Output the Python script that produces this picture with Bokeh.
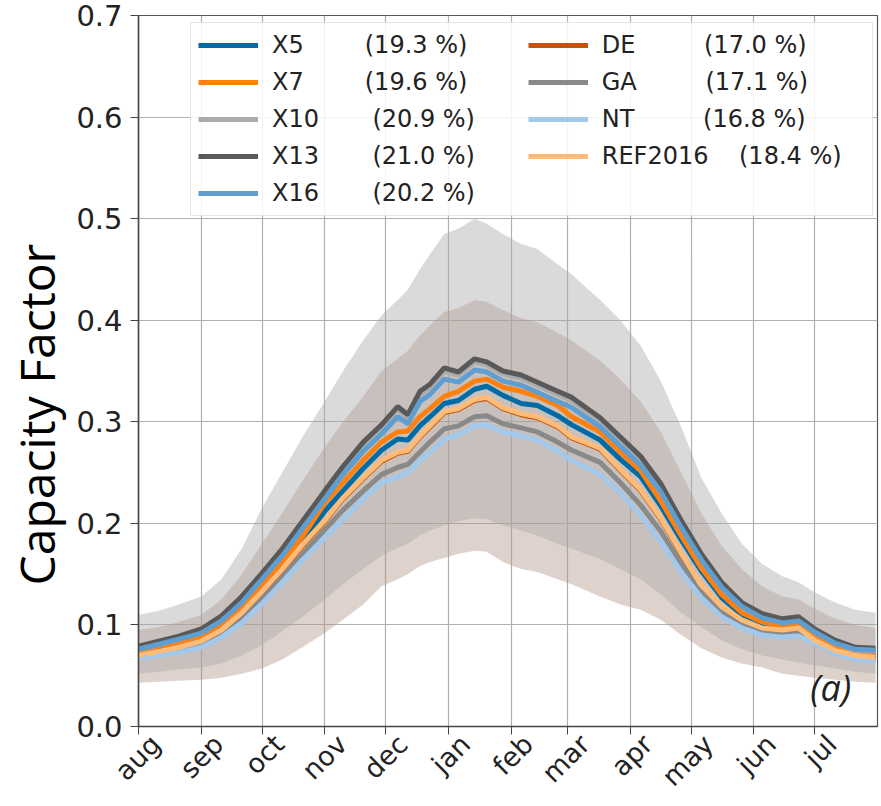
import math
from bokeh.plotting import figure
from bokeh.models import (Legend, LegendItem, FixedTicker, Label, Range1d,
                          NumeralTickFormatter, LinearAxis)
from bokeh.embed import file_html
from bokeh.resources import INLINE

# Day of the season (0 = 1 August)
DAYS = [0, 10, 20, 31, 41, 51, 61, 71, 81, 92, 101, 111, 120, 128, 133, 139,
        144, 151, 158, 166, 172, 180, 189, 197, 207, 214, 228, 238, 248, 258,
        268, 278, 288, 298, 308, 318, 326, 334, 344, 354, 364]

MONTH_STARTS = [0, 31, 61, 92, 122, 153, 184, 212, 243, 273, 304, 334]
MONTH_LABELS = ["aug", "sep", "oct", "nov", "dec", "jan", "feb", "mar",
                "apr", "may", "jun", "jul"]

# Daily mean capacity factor of each model
x5 = [0.072, 0.077, 0.081, 0.087, 0.098, 0.115, 0.136, 0.158, 0.182, 0.212,
      0.232, 0.254, 0.272, 0.283, 0.282, 0.296, 0.305, 0.318, 0.321, 0.332,
      0.335, 0.326, 0.318, 0.316, 0.306, 0.297, 0.282, 0.263, 0.246, 0.217,
      0.184, 0.153, 0.127, 0.110, 0.101, 0.097, 0.099, 0.088, 0.077, 0.071,
      0.070]
x7 = [0.074, 0.079, 0.083, 0.089, 0.101, 0.118, 0.140, 0.162, 0.187, 0.220,
      0.240, 0.262, 0.280, 0.290, 0.291, 0.305, 0.313, 0.325, 0.330, 0.340,
      0.342, 0.334, 0.330, 0.325, 0.316, 0.305, 0.290, 0.270, 0.252, 0.222,
      0.188, 0.156, 0.130, 0.112, 0.103, 0.099, 0.101, 0.090, 0.079, 0.073,
      0.072]
x10 = [0.076, 0.081, 0.086, 0.093, 0.106, 0.125, 0.148, 0.172, 0.199, 0.229,
       0.253, 0.277, 0.294, 0.312, 0.304, 0.327, 0.334, 0.350, 0.346, 0.359,
       0.356, 0.347, 0.343, 0.336, 0.327, 0.321, 0.301, 0.282, 0.263, 0.236,
       0.200, 0.167, 0.139, 0.119, 0.108, 0.103, 0.105, 0.093, 0.082, 0.075,
       0.074]
x13 = [0.079, 0.084, 0.089, 0.096, 0.109, 0.128, 0.151, 0.175, 0.202, 0.232,
       0.256, 0.280, 0.297, 0.315, 0.307, 0.330, 0.337, 0.353, 0.349, 0.362,
       0.359, 0.350, 0.346, 0.339, 0.330, 0.324, 0.304, 0.285, 0.266, 0.239,
       0.203, 0.170, 0.142, 0.122, 0.111, 0.106, 0.108, 0.096, 0.085, 0.078,
       0.077]
x16 = [0.076, 0.081, 0.086, 0.092, 0.104, 0.122, 0.145, 0.168, 0.195, 0.224,
       0.248, 0.271, 0.288, 0.305, 0.298, 0.320, 0.327, 0.342, 0.339, 0.351,
       0.349, 0.340, 0.336, 0.329, 0.320, 0.314, 0.295, 0.276, 0.257, 0.231,
       0.196, 0.164, 0.137, 0.118, 0.107, 0.102, 0.104, 0.093, 0.082, 0.076,
       0.075]
de = [0.069, 0.073, 0.077, 0.083, 0.094, 0.111, 0.132, 0.154, 0.178, 0.202,
      0.224, 0.244, 0.261, 0.269, 0.271, 0.285, 0.295, 0.309, 0.312, 0.321,
      0.323, 0.313, 0.307, 0.304, 0.295, 0.284, 0.273, 0.252, 0.232, 0.204,
      0.170, 0.138, 0.117, 0.104, 0.096, 0.094, 0.096, 0.084, 0.074, 0.069,
      0.067]
ga = [0.068, 0.072, 0.075, 0.081, 0.090, 0.106, 0.126, 0.147, 0.170, 0.194,
      0.213, 0.232, 0.248, 0.255, 0.258, 0.270, 0.280, 0.293, 0.296, 0.305,
      0.306, 0.298, 0.294, 0.290, 0.280, 0.272, 0.260, 0.240, 0.218, 0.192,
      0.161, 0.132, 0.112, 0.100, 0.093, 0.091, 0.092, 0.084, 0.072, 0.067,
      0.066]
nt = [0.067, 0.070, 0.073, 0.078, 0.088, 0.102, 0.121, 0.142, 0.164, 0.186,
      0.204, 0.224, 0.240, 0.246, 0.250, 0.262, 0.270, 0.283, 0.287, 0.296,
      0.297, 0.290, 0.286, 0.282, 0.271, 0.262, 0.248, 0.230, 0.208, 0.182,
      0.152, 0.127, 0.108, 0.097, 0.090, 0.088, 0.089, 0.082, 0.072, 0.066,
      0.065]
ref2016 = [0.070, 0.074, 0.078, 0.084, 0.095, 0.112, 0.133, 0.155, 0.179,
           0.203, 0.225, 0.245, 0.262, 0.270, 0.272, 0.286, 0.296, 0.310,
           0.313, 0.322, 0.324, 0.314, 0.308, 0.305, 0.296, 0.285, 0.274,
           0.253, 0.233, 0.205, 0.171, 0.139, 0.118, 0.105, 0.097, 0.095,
           0.097, 0.085, 0.075, 0.070, 0.068]

# Spread across years: high-yield models (grey) and low-yield models (tan)
spread_hi_upper = [0.110, 0.114, 0.120, 0.128, 0.145, 0.175, 0.215, 0.250,
                   0.285, 0.320, 0.350, 0.380, 0.405, 0.420, 0.430, 0.450,
                   0.465, 0.485, 0.490, 0.500, 0.495, 0.485, 0.475, 0.470,
                   0.455, 0.445, 0.420, 0.400, 0.375, 0.340, 0.295, 0.245,
                   0.210, 0.180, 0.160, 0.148, 0.142, 0.132, 0.122, 0.115,
                   0.112]
spread_hi_lower = [0.052, 0.054, 0.056, 0.058, 0.062, 0.070, 0.080, 0.094,
                   0.108, 0.125, 0.140, 0.155, 0.168, 0.176, 0.180, 0.188,
                   0.193, 0.198, 0.202, 0.205, 0.204, 0.198, 0.193, 0.188,
                   0.180, 0.175, 0.165, 0.155, 0.145, 0.130, 0.112, 0.098,
                   0.085, 0.076, 0.070, 0.066, 0.063, 0.060, 0.057, 0.054,
                   0.052]
spread_lo_upper = [0.095, 0.098, 0.103, 0.110, 0.125, 0.150, 0.180, 0.210,
                   0.242, 0.275, 0.300, 0.325, 0.350, 0.362, 0.370, 0.385,
                   0.395, 0.408, 0.412, 0.420, 0.418, 0.410, 0.402, 0.398,
                   0.388, 0.380, 0.360, 0.342, 0.320, 0.290, 0.250, 0.210,
                   0.178, 0.155, 0.138, 0.128, 0.125, 0.116, 0.106, 0.100,
                   0.097]
spread_lo_lower = [0.043, 0.044, 0.045, 0.046, 0.048, 0.052, 0.057, 0.066,
                   0.078, 0.092, 0.105, 0.120, 0.138, 0.145, 0.150, 0.158,
                   0.162, 0.166, 0.170, 0.173, 0.172, 0.162, 0.155, 0.152,
                   0.145, 0.140, 0.128, 0.120, 0.115, 0.105, 0.090, 0.077,
                   0.068, 0.062, 0.058, 0.052, 0.050, 0.048, 0.046, 0.044,
                   0.043]

NB = "\u00a0"
# (legend label, values, colour, drawing order)
series = [
    ("X5" + NB * 8 + "(19.3 %)" + NB * 6, x5, "#006BA4", 1),
    ("X7" + NB * 8 + "(19.6 %)" + NB * 6, x7, "#FF800E", 2),
    ("X10" + NB * 7 + "(20.9 %)" + NB * 6, x10, "#ABABAB", 3),
    ("X13" + NB * 7 + "(21.0 %)" + NB * 6, x13, "#595959", 4),
    ("X16" + NB * 7 + "(20.2 %)" + NB * 6, x16, "#5F9ED1", 5),
    ("DE" + NB * 9 + "(17.0 %)", de, "#C85200", 0),
    ("GA" + NB * 9 + "(17.1 %)", ga, "#898989", 6),
    ("NT" + NB * 9 + "(16.8 %)", nt, "#A2C8EC", 7),
    ("REF2016" + NB * 4 + "(18.4 %)" + NB * 3, ref2016, "#FFBC79", 8),
]

p = figure(width=881, height=806, output_backend="svg", toolbar_location=None,
           x_range=Range1d(0, 365), y_range=Range1d(0, 0.7),
           min_border_left=138, min_border_right=4, min_border_top=15,
           min_border_bottom=79)
p.background_fill_color = "white"
p.border_fill_color = "white"
p.outline_line_color = "#555555"
p.outline_line_width = 1.2

# Spread bands
p.varea(x=DAYS, y1=spread_lo_lower, y2=spread_lo_upper,
        fill_color="#ad9585", fill_alpha=0.42)
p.varea(x=DAYS, y1=spread_hi_lower, y2=spread_hi_upper,
        fill_color="#a9a7a6", fill_alpha=0.42)

renderers = {}
for label, vals, color, order in sorted(series, key=lambda s: s[3]):
    renderers[label] = p.line(DAYS, vals, line_color=color, line_width=5)
items = [LegendItem(label=label, renderers=[renderers[label]])
         for label, _, _, _ in series]

# Axes: the main x axis carries the month ticks, a second one the names
p.xaxis.ticker = FixedTicker(ticks=MONTH_STARTS)
p.xaxis.major_label_overrides = {d: "" for d in MONTH_STARTS}
p.xaxis.major_label_text_font_size = "0px"
p.xaxis.major_label_standoff = 0
p.yaxis.ticker = FixedTicker(ticks=[0.0, 0.1, 0.2, 0.3, 0.4, 0.5, 0.6, 0.7])
p.yaxis.formatter = NumeralTickFormatter(format="0.0")
for ax in (p.xaxis, p.yaxis):
    ax.major_label_text_font = "DejaVu Sans"
    ax.major_label_text_color = "#222222"
    ax.axis_line_color = "#444444"
    ax.axis_line_width = 1.5
    ax.major_tick_line_color = "#444444"
    ax.major_tick_out = 8
    ax.major_tick_in = 0
    ax.minor_tick_out = 0
    ax.minor_tick_in = 0
p.yaxis.major_label_text_font_size = "29px"
p.yaxis.major_label_standoff = 8

# Month names: rotated 45 degrees and centred under each tick
p.extra_x_ranges = {"month_names": Range1d(-8.5, 356.5)}
month_axis = LinearAxis(x_range_name="month_names",
                        ticker=FixedTicker(ticks=MONTH_STARTS),
                        major_label_overrides={d: m for d, m in
                                               zip(MONTH_STARTS, MONTH_LABELS)},
                        major_label_orientation=math.pi / 4,
                        major_label_text_font="DejaVu Sans",
                        major_label_text_font_size="27px",
                        major_label_text_color="#222222",
                        major_label_standoff=5,
                        axis_line_alpha=0, major_tick_out=0, major_tick_in=0,
                        minor_tick_out=0, minor_tick_in=0)
p.add_layout(month_axis, "below")

p.yaxis.axis_label = "Capacity Factor" + NB * 7
p.yaxis.axis_label_text_font = "Open Sans"
p.yaxis.axis_label_text_font_style = "normal"
p.yaxis.axis_label_text_font_size = "48px"
p.yaxis.axis_label_text_color = "black"
p.yaxis.axis_label_standoff = 4

p.grid.grid_line_color = "#b0b0b0"
p.grid.grid_line_width = 1.2
p.grid.grid_line_alpha = 1.0

legend = Legend(items=items, ncols=2, location=(52, 510),
                label_text_font="DejaVu Sans", label_text_font_size="24px",
                label_text_color="#222222",
                glyph_width=60, glyph_height=30, label_height=30,
                label_standoff=14, spacing=7, padding=7, margin=0,
                background_fill_color="white", background_fill_alpha=0.85,
                border_line_color="#cccccc", border_line_width=1.2)
p.add_layout(legend)

p.add_layout(Label(x=352, y=0.014, text="(a)", text_align="right",
                   text_baseline="bottom", text_font="Open Sans",
                   text_font_style="italic", text_font_size="36px",
                   text_color="#222222"))

open("out.html", "w").write(file_html(p, INLINE))
